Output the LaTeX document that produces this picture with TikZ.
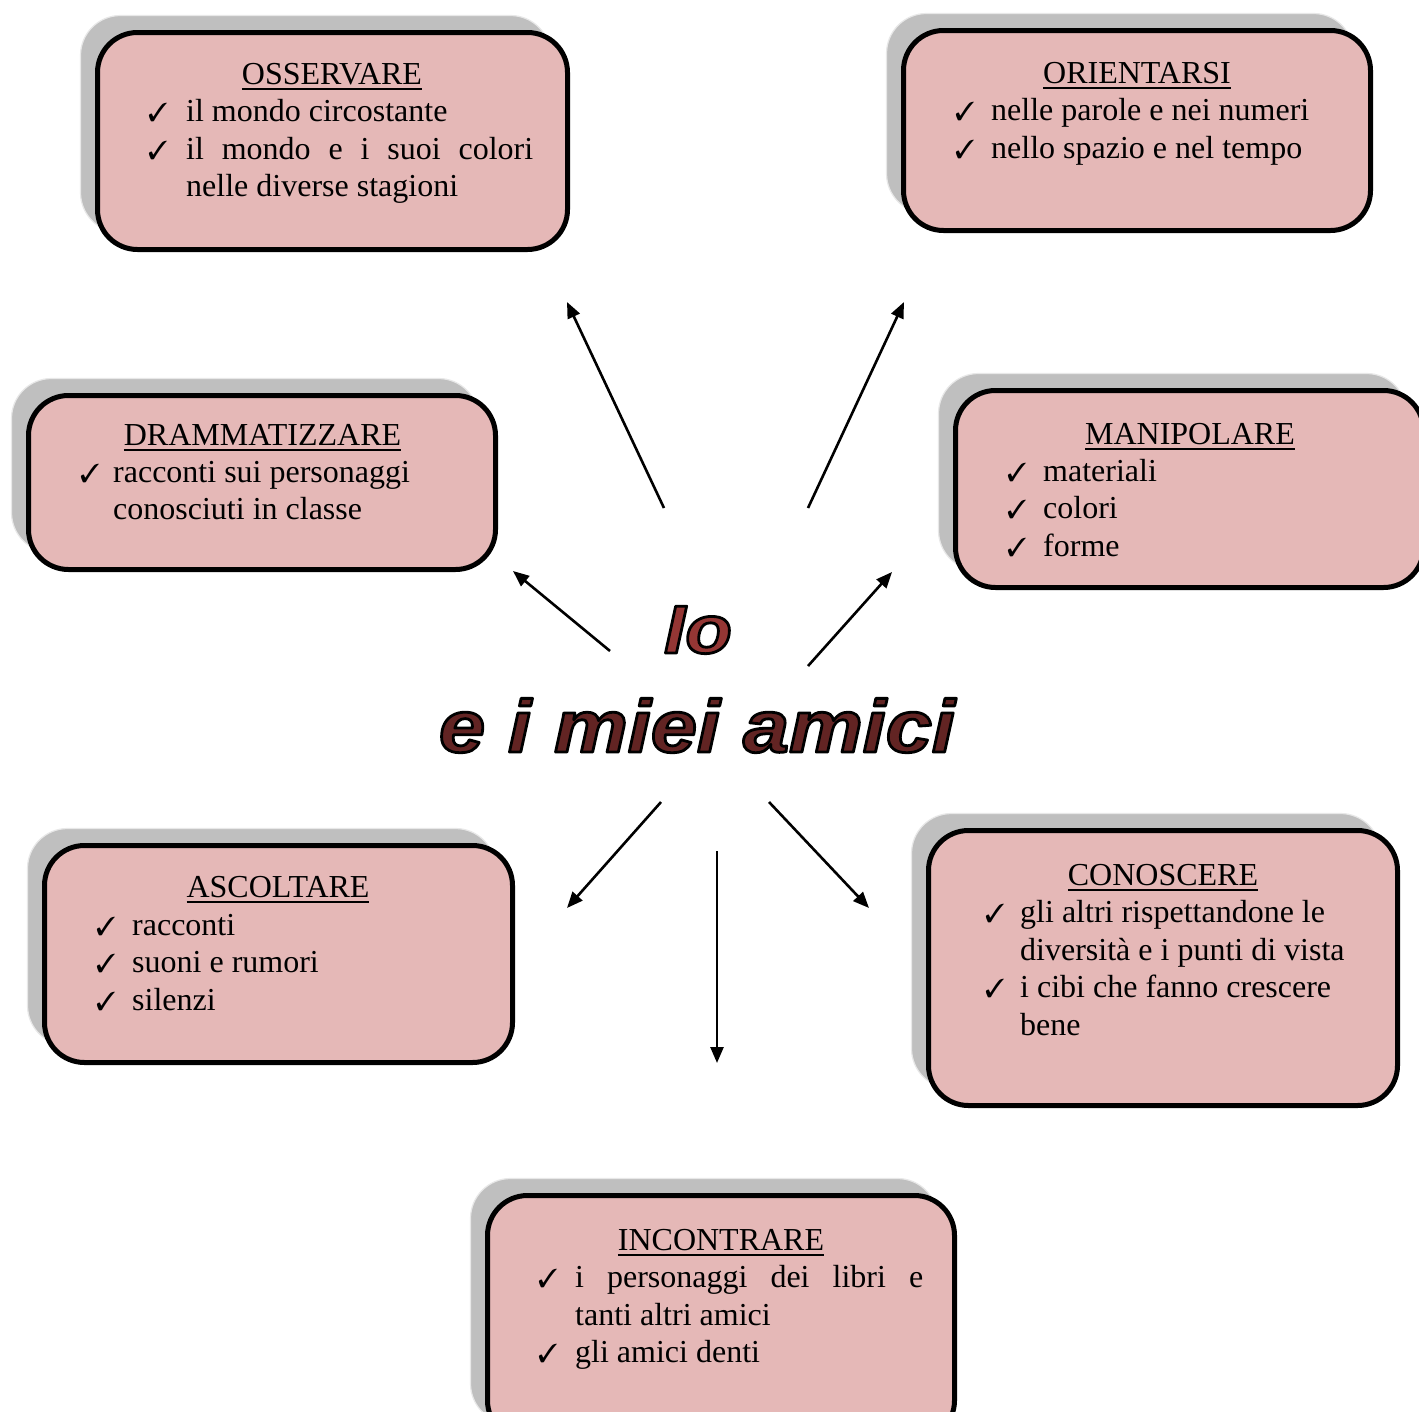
\documentclass[tikz,border=0pt]{standalone}
\usepackage{fontspec}
\setmainfont{Liberation Serif}
\newfontfamily\titlefont[BoldItalicFeatures={FakeStretch=1.12}]{Liberation Sans}
\usepackage{pifont}
\usetikzlibrary{arrows.meta}

\definecolor{boxpink}{HTML}{E5B8B7}
\definecolor{shadowgray}{HTML}{BFBFBF}
\definecolor{shadowedge}{HTML}{E8E8E8}
\definecolor{iored}{HTML}{943634}
\definecolor{amicired}{HTML}{622423}

% underlined heading word
\newcommand\headul[1]{\setbox0\hbox{#1}\rlap{\rule[-5.6pt]{\wd0}{1.7pt}}\box0}
% filled glyphs with a black stroked outline (PDF text render mode 2)
\newcommand\outlined[2]{{\color{#1}\special{pdf:code q 0 0 0 RG 2.8 w 1 j 2 Tr}#2\special{pdf:code Q}}}
% shadow + bordered rounded box
\newcommand\pinkbox[5]{%
  \node[shad, minimum width=#4pt, minimum height=#5pt] (#1-sh) at (#2-17,#3-17) {};
  \node[pbox, minimum width=#4pt, minimum height=#5pt] (#1) at (#2,#3) {};
}

\tikzset{
  pbox/.style={rectangle, draw=black, line width=5pt, fill=boxpink, rounded corners=40pt, inner sep=0pt},
  shad/.style={rectangle, draw=shadowedge, line width=1.2pt, fill=shadowgray, rounded corners=40pt, inner sep=0pt},
  txt/.style={anchor=base west, inner sep=0pt, font=\fontsize{32}{37.5}\selectfont},
  ttl/.style={anchor=base, inner sep=0pt, font=\fontsize{32}{37.5}\selectfont},
  chk/.style={anchor=base west, inner sep=0pt, font=\fontsize{26}{26}\selectfont},
  arr/.style={-{Triangle[length=16pt,width=13pt]}, line width=2.6pt, draw=black},
}

\begin{document}
\begin{tikzpicture}[x=1pt,y=-1pt]
\useasboundingbox (0,0) rectangle (1419,1411);
\fill[white] (0,0) rectangle (1419,1411);
\clip (0,0) rectangle (1419,1411);

% ---- boxes ----
\pinkbox{oss}{332.5}{141}{470}{217}
\pinkbox{ori}{1137}{130.5}{467}{200}
\pinkbox{dra}{262}{482.5}{467}{174}
\pinkbox{man}{1189.5}{489}{468}{197}
\pinkbox{asc}{278.5}{954}{468}{217}
\pinkbox{con}{1163}{968}{469}{275}
\pinkbox{inc}{721}{1318}{467}{245}

% ---- OSSERVARE ----
\node[ttl] (oss-t) at (332,84) {\headul{OSSERVARE}};
\node[chk] (oss-c1) at (148,121.5) {\ding{51}};
\node[txt] (oss-l1) at (186,121.5) {il mondo circostante};
\node[chk] (oss-c2) at (148,159) {\ding{51}};
\node[txt] (oss-l2) at (186,159) {\makebox[347pt][s]{il mondo e i suoi colori}};
\node[txt] (oss-l3) at (186,196.5) {nelle diverse stagioni};

% ---- ORIENTARSI ----
\node[ttl] (ori-t) at (1137,83) {\headul{ORIENTARSI}};
\node[chk] (ori-c1) at (955,120.5) {\ding{51}};
\node[txt] (ori-l1) at (991,120.5) {nelle parole e nei numeri};
\node[chk] (ori-c2) at (955,158) {\ding{51}};
\node[txt] (ori-l2) at (991,158) {nello spazio e nel tempo};

% ---- DRAMMATIZZARE ----
\node[ttl] (dra-t) at (262.5,445) {\headul{DRAMMATIZZARE}};
\node[chk] (dra-c1) at (80,482) {\ding{51}};
\node[txt] (dra-l1) at (113,482) {racconti sui personaggi};
\node[txt] (dra-l2) at (113,519.5) {conosciuti in classe};

% ---- MANIPOLARE ----
\node[ttl] (man-t) at (1190,444) {\headul{MANIPOLARE}};
\node[chk] (man-c1) at (1007,481) {\ding{51}};
\node[txt] (man-l1) at (1043,481) {materiali};
\node[chk] (man-c2) at (1007,518.5) {\ding{51}};
\node[txt] (man-l2) at (1043,518.5) {colori};
\node[chk] (man-c3) at (1007,556) {\ding{51}};
\node[txt] (man-l3) at (1043,556) {forme};

% ---- ASCOLTARE ----
\node[ttl] (asc-t) at (278,897) {\headul{ASCOLTARE}};
\node[chk] (asc-c1) at (96,935) {\ding{51}};
\node[txt] (asc-l1) at (132,935) {racconti};
\node[chk] (asc-c2) at (96,972.5) {\ding{51}};
\node[txt] (asc-l2) at (132,972.5) {suoni e rumori};
\node[chk] (asc-c3) at (96,1010) {\ding{51}};
\node[txt] (asc-l3) at (132,1010) {silenzi};

% ---- CONOSCERE ----
\node[ttl] (con-t) at (1163,885) {\headul{CONOSCERE}};
\node[chk] (con-c1) at (985,922.5) {\ding{51}};
\node[txt] (con-l1) at (1020,922.5) {gli altri rispettandone le};
\node[txt] (con-l2) at (1020,960) {diversità e i punti di vista};
\node[chk] (con-c2) at (985,997.5) {\ding{51}};
\node[txt] (con-l3) at (1020,997.5) {i cibi che fanno crescere};
\node[txt] (con-l4) at (1020,1035) {bene};

% ---- INCONTRARE ----
\node[ttl] (inc-t) at (721,1250) {\headul{INCONTRARE}};
\node[chk] (inc-c1) at (538,1287.5) {\ding{51}};
\node[txt] (inc-l1) at (575,1287.5) {\makebox[348pt][s]{i personaggi dei libri e}};
\node[txt] (inc-l2) at (575,1325) {tanti altri amici};
\node[chk] (inc-c2) at (538,1362.5) {\ding{51}};
\node[txt] (inc-l3) at (575,1362.5) {gli amici denti};

% ---- central title ----
\node[anchor=base, inner sep=0pt] (io) at (698,653)
  {\titlefont\bfseries\itshape\fontsize{68}{68}\selectfont\outlined{iored}{Io}};
\node[anchor=base, inner sep=0pt] (amici) at (697,752)
  {\titlefont\bfseries\itshape\fontsize{74}{74}\selectfont\outlined{amicired}{e i miei amici}};

% ---- arrows ----
\coordinate (a1s) at (664,508);  \coordinate (a1e) at (567,302);
\coordinate (a2s) at (808,508);  \coordinate (a2e) at (904,302);
\coordinate (a3s) at (610,651);  \coordinate (a3e) at (513,571);
\coordinate (a4s) at (808,666);  \coordinate (a4e) at (892,572);
\coordinate (a5s) at (661,802);  \coordinate (a5e) at (567,908);
\coordinate (a6s) at (717,851);  \coordinate (a6e) at (717,1063);
\coordinate (a7s) at (769,802);  \coordinate (a7e) at (869,908);
\draw[arr] (a1s) -- (a1e);
\draw[arr] (a2s) -- (a2e);
\draw[arr] (a3s) -- (a3e);
\draw[arr] (a4s) -- (a4e);
\draw[arr] (a5s) -- (a5e);
\draw[arr] (a6s) -- (a6e);
\draw[arr] (a7s) -- (a7e);
\end{tikzpicture}
\end{document}
